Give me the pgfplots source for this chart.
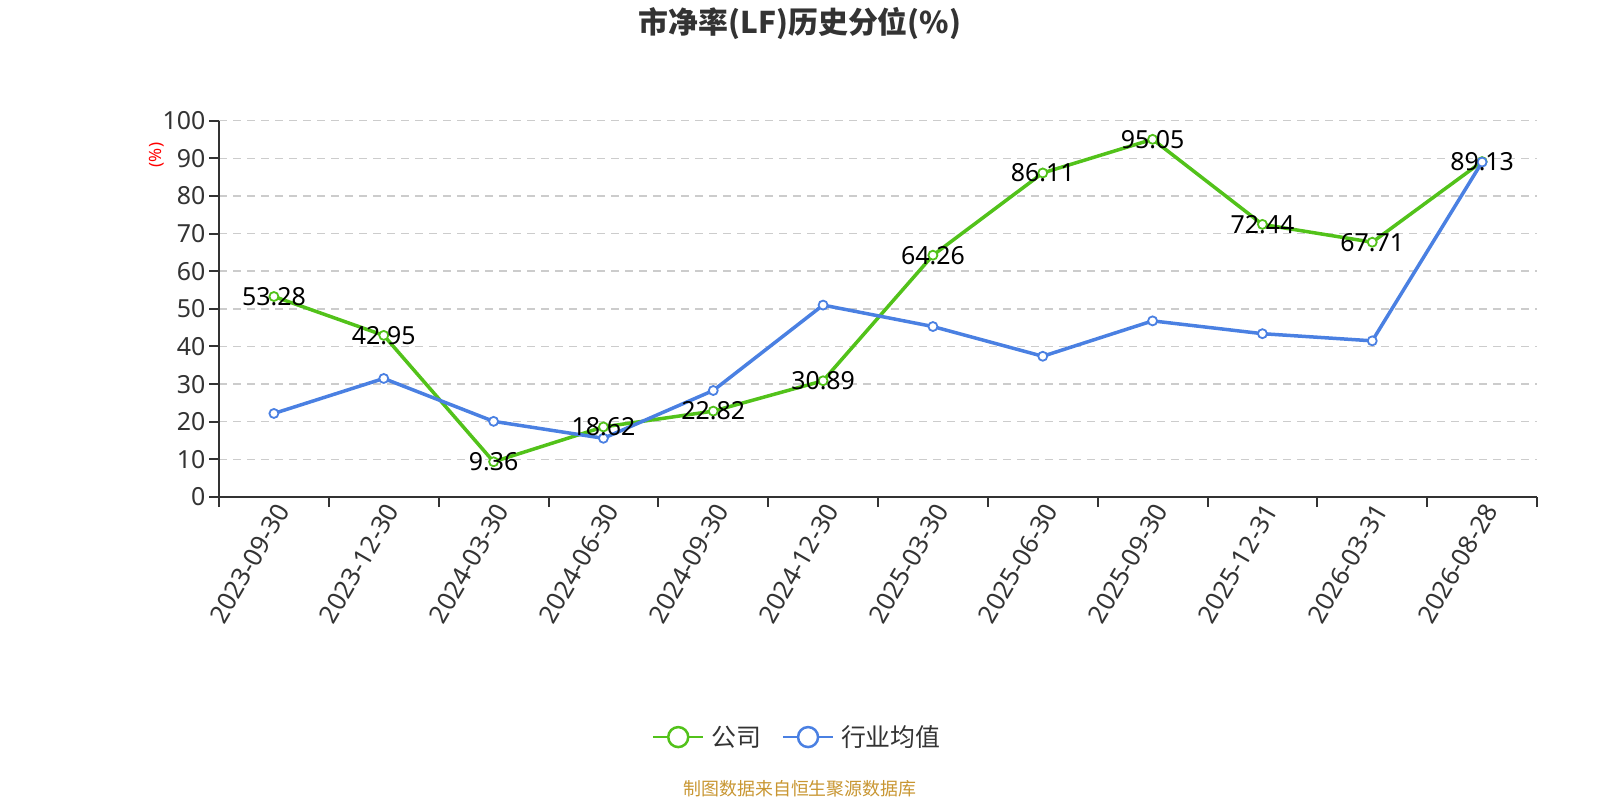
\documentclass[border=0pt]{standalone}
\usepackage{fontspec}
\setmainfont{Noto Sans}
\newfontfamily\cjk{Noto Sans CJK SC}
\usepackage{pgfplots}
\pgfplotsset{compat=1.18}
\definecolor{cgreen}{RGB}{82,194,26}
\definecolor{cblue}{RGB}{74,128,226}
\definecolor{ctext}{RGB}{51,51,51}
\definecolor{cgrid}{RGB}{204,204,204}
\definecolor{cfoot}{RGB}{200,150,50}
\begin{document}
\begin{tikzpicture}
\useasboundingbox (0,0) rectangle (1600bp,800bp);
\begin{axis}[
  at={(219bp,303bp)}, anchor=south west, scale only axis,
  width=1318bp, height=376.3bp,
  xmin=0, xmax=12, ymin=0, ymax=100,
  axis x line*=bottom, axis y line*=left,
  axis line style={ctext, line width=2bp},
  tick align=outside, major tick length=10bp,
  tick style={ctext, line width=2bp},
  xtick={0,1,2,3,4,5,6,7,8,9,10,11,12}, xticklabels={},
  extra x ticks={0.5,1.5,2.5,3.5,4.5,5.5,6.5,7.5,8.5,9.5,10.5,11.5},
  extra x tick labels={2023-09-30,2023-12-30,2024-03-30,2024-06-30,2024-09-30,2024-12-30,2025-03-30,2025-06-30,2025-09-30,2025-12-31,2026-03-31,2026-08-28},
  extra x tick style={major tick length=0pt, grid=none},
  x tick label style={rotate=60, anchor=east, font=\fontsize{25.5}{29}\selectfont, text=ctext, yshift=-12bp},
  ytick={0,10,20,30,40,50,60,70,80,90,100},
  y tick label style={font=\fontsize{25}{29}\selectfont, text=ctext},
  ymajorgrids, major grid style={cgrid, dash pattern=on 8bp off 6bp, line width=1.5bp},
  /pgf/number format/assume math mode=true,
  clip=false,
  legend style={draw=none, fill=none, legend columns=2,
    font=\cjk\fontsize{25}{29}\selectfont, text=ctext,
    at={(axis description cs:0.4408,-0.638)}, anchor=center,
    nodes={inner xsep=7bp},
    /tikz/every even column/.append style={column sep=14bp}},
]
\addplot[cgreen, line width=3.5bp, mark=*, mark size=4.5bp,
  mark options={fill=white, line width=1.8bp, solid},
  legend image code/.code={\draw[cgreen, line width=2bp] (0bp,0bp) -- (50bp,0bp);
    \draw[cgreen, fill=white, line width=2.5bp] (25bp,0bp) circle (10bp);}]
coordinates {(0.5,53.28) (1.5,42.95) (2.5,9.36) (3.5,18.62) (4.5,22.82) (5.5,30.89)
 (6.5,64.26) (7.5,86.11) (8.5,95.05) (9.5,72.44) (10.5,67.71) (11.5,89.13)};
\addlegendentry{公司}
\addplot[cblue, line width=3.5bp, mark=*, mark size=4.5bp,
  mark options={fill=white, line width=1.8bp, solid},
  legend image code/.code={\draw[cblue, line width=2bp] (0bp,0bp) -- (50bp,0bp);
    \draw[cblue, fill=white, line width=2.5bp] (25bp,0bp) circle (10bp);}]
coordinates {(0.5,22.2) (1.5,31.5) (2.5,20.1) (3.5,15.6) (4.5,28.3) (5.5,51.0)
 (6.5,45.3) (7.5,37.4) (8.5,46.8) (9.5,43.4) (10.5,41.5) (11.5,89.0)};
\addlegendentry{行业均值}
\addplot[forget plot, draw=none, mark=none, nodes near coords, point meta=explicit symbolic,
  every node near coord/.append style={anchor=center, font=\fontsize{25}{29}\selectfont, text=black}]
coordinates {(0.5,53.28)[53.28] (1.5,42.95)[42.95] (2.5,9.36)[9.36] (3.5,18.62)[18.62]
 (4.5,22.82)[22.82] (5.5,30.89)[30.89] (6.5,64.26)[64.26] (7.5,86.11)[86.11]
 (8.5,95.05)[95.05] (9.5,72.44)[72.44] (10.5,67.71)[67.71] (11.5,89.13)[89.13]};
\end{axis}
\node[font=\cjk\bfseries\fontsize{30}{34}\selectfont, text=ctext] at (800bp,776.5bp) {市净率(LF)历史分位(\%)};
\node[rotate=90, text=red, font=\fontsize{17}{20}\selectfont] at (157bp,645bp) {(\%)};
\node[font=\cjk\fontsize{18}{22}\selectfont, text=cfoot] at (800bp,11bp) {制图数据来自恒生聚源数据库};
\end{tikzpicture}
\end{document}
